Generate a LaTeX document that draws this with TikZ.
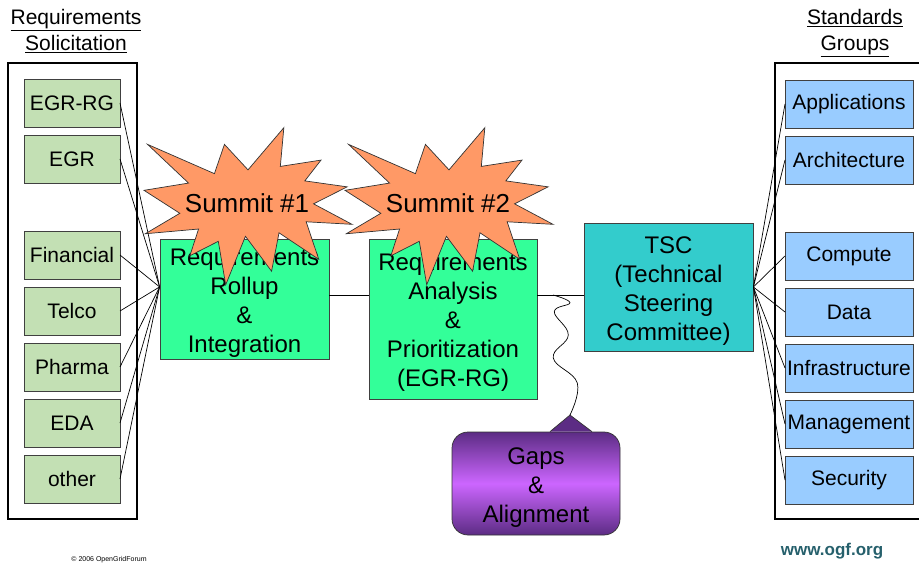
\documentclass[tikz,border=0pt]{standalone}
\usepackage{fontspec}
\setmainfont{Liberation Sans}
\usepackage[dvipsnames]{xcolor}
\usetikzlibrary{
  positioning,
  calc,
  shapes
}
\definecolor{reqgreen}{RGB}{195,224,180}
\definecolor{sgblue}{RGB}{153,204,255}
\definecolor{procgreen}{RGB}{51,255,153}
\definecolor{tscteal}{RGB}{51,204,204}
\definecolor{burstorange}{RGB}{255,153,102}
\definecolor{calloutdark}{RGB}{92,44,132}
\definecolor{calloutlight}{RGB}{204,102,255}
\definecolor{ogfteal}{RGB}{38,96,108}
\newcommand{\topstrut}{\rule{0pt}{24pt}}

\begin{document}
\begin{tikzpicture}[
  x=1pt, y=-1pt,
  every node/.style = {align=center, inner sep=0pt},
  reqbox/.style = {draw=black!75, line width=0.8pt, fill=reqgreen, outer sep=0pt,
    minimum width=96pt, minimum height=48pt, font=\fontsize{21}{26}\selectfont},
  sgbox/.style = {reqbox, fill=sgblue, minimum width=128pt},
  procbox/.style = {draw=black!75, line width=0.8pt,
    font=\fontsize{24}{29}\selectfont},
  grouptitle/.style = {font=\fontsize{21}{26}\selectfont},
  frame/.style = {draw, line width=1.8pt},
  feed/.style = {draw, line width=0.7pt}]
  \tikzstyle{burst}=[draw=black!80, line width=0.7pt, fill=burstorange]
  \useasboundingbox (0,0) rectangle (919,564);

  % requirement sources
  \node[grouptitle] (soltitle) at (76,31) {\underline{Requirements}\\\underline{Solicitation}};
  \draw[frame] (8,63) rectangle (137,519);
  \node[reqbox] (egrrg) at (72,103) {EGR-RG};
  \node[reqbox, below=8pt of egrrg] (egr) {EGR};
  \node[reqbox, below=48pt of egr] (fin) {Financial};
  \node[reqbox, below=8pt of fin] (telco) {Telco};
  \node[reqbox, below=8pt of telco] (pharma) {Pharma};
  \node[reqbox, below=8pt of pharma] (eda) {EDA};
  \node[reqbox, below=8pt of eda] (other) {other};

  % standards groups
  \node[grouptitle] (sgtitle) at (855,33) {\underline{Standards}\\\underline{Groups}};
  \draw[frame] (919,63) -- (775,63) -- (775,519) -- (919,519);
  \node[sgbox] (apps) at (849,104) {Applications};
  \node[sgbox, below=8pt of apps] (arch) {Architecture};
  \node[sgbox, below=48pt of arch] (comp) {Compute};
  \node[sgbox, below=8pt of comp] (data) {Data};
  \node[sgbox, below=8pt of data] (infra) {Infrastructure};
  \node[sgbox, below=8pt of infra] (mgmt) {Management};
  \node[sgbox, below=8pt of mgmt] (sec) {Security};

  % process
  \node[procbox, fill=procgreen, minimum width=169pt, minimum height=120pt]
    (rollup) at (244.5,299) {\topstrut Requirements\\Rollup\\\&\\Integration};
  \node[procbox, fill=procgreen, minimum width=168pt, minimum height=160pt]
    (analysis) at (453,319) {\topstrut Requirements\\Analysis\\\&\\Prioritization\\(EGR-RG)};
  \node[procbox, fill=tscteal, minimum width=169pt, minimum height=128pt]
    (tsc) at (668.5,287) {\topstrut TSC\\(Technical\\Steering\\Committee)};

  \coordinate (rollin) at ($(rollup.north west)!0.4!(rollup.south west)$);
  \coordinate (rollout) at (rollup.east |- 0,295);
  \coordinate (anain) at (analysis.west |- 0,295);
  \coordinate (anaout) at (analysis.east |- 0,295);
  \coordinate (tscin) at (tsc.west |- 0,295);
  \coordinate (wavetop) at (553,295);

  \foreach \src in {egrrg,egr,fin,telco,pharma,eda,other}
    \draw[feed] (\src.east) -- (rollin);
  \foreach \dst in {apps,arch,comp,data,infra,mgmt,sec}
    \draw[feed] (tsc.east) -- (\dst.west);
  \draw[feed] (rollout) -- (anain);
  \draw[feed] (anaout) -- (tscin);

  % summits
  \foreach \sx/\nm/\txt in {144/summitA/{Summit \#1}, 345/summitB/{Summit \#2}} {
    \begin{scope}[shift={(\sx,127.7)}, x=0.963pt, y=-0.727pt]
      \draw[burst] (108,58) -- (145.22,0) -- (141.55,53.25) -- (183.80,44.57)
        -- (167.02,73.15) -- (210.97,81.37) -- (176.07,104.75) -- (216,132.90)
        -- (168.37,129.42) -- (181.45,180.95) -- (140.20,144.57) -- (132.47,197.37)
        -- (105.32,149.35) -- (84.85,216) -- (77.15,156.27) -- (47.62,176.17)
        -- (56.67,139.37) -- (1.35,145.87) -- (37.22,117.75) -- (0,86.15)
        -- (46.27,76.17) -- (3.70,22.95) -- (73.12,63.20) -- (83.52,22.95) -- cycle;
      \node[font=\fontsize{26}{31}\selectfont] (\nm) at (107,104) {\txt};
    \end{scope}
  }

  % gaps callout
  \node[procbox, draw=black!80, line width=0.7pt, rounded corners=16pt,
    minimum width=168pt, minimum height=103pt,
    top color=calloutdark, bottom color=calloutdark, middle color=calloutlight]
    (gaps) at (536,483.5) {\topstrut Gaps\\\&\\Alignment};
  \coordinate (gapstip) at (570,415);
  \draw[draw=black!80, line width=0.7pt, fill=calloutdark]
    ([xshift=14pt]gaps.north) -- (gapstip) -- ([xshift=56pt]gaps.north);
  \draw[feed] plot[smooth, tension=0.7] coordinates {(wavetop) (570,302.7)
    (554.3,311.7) (568.3,335) (553.3,358) (577.3,383) (gapstip)};

  % footer
  \node[font=\fontsize{7}{8}\selectfont] (copy) at (109,560) {\textcopyright{} 2006 OpenGridForum};
  \node[font=\bfseries\fontsize{17}{20}\selectfont, text=ogfteal] (www) at (832,551) {www.ogf.org};
\end{tikzpicture}
\end{document}
